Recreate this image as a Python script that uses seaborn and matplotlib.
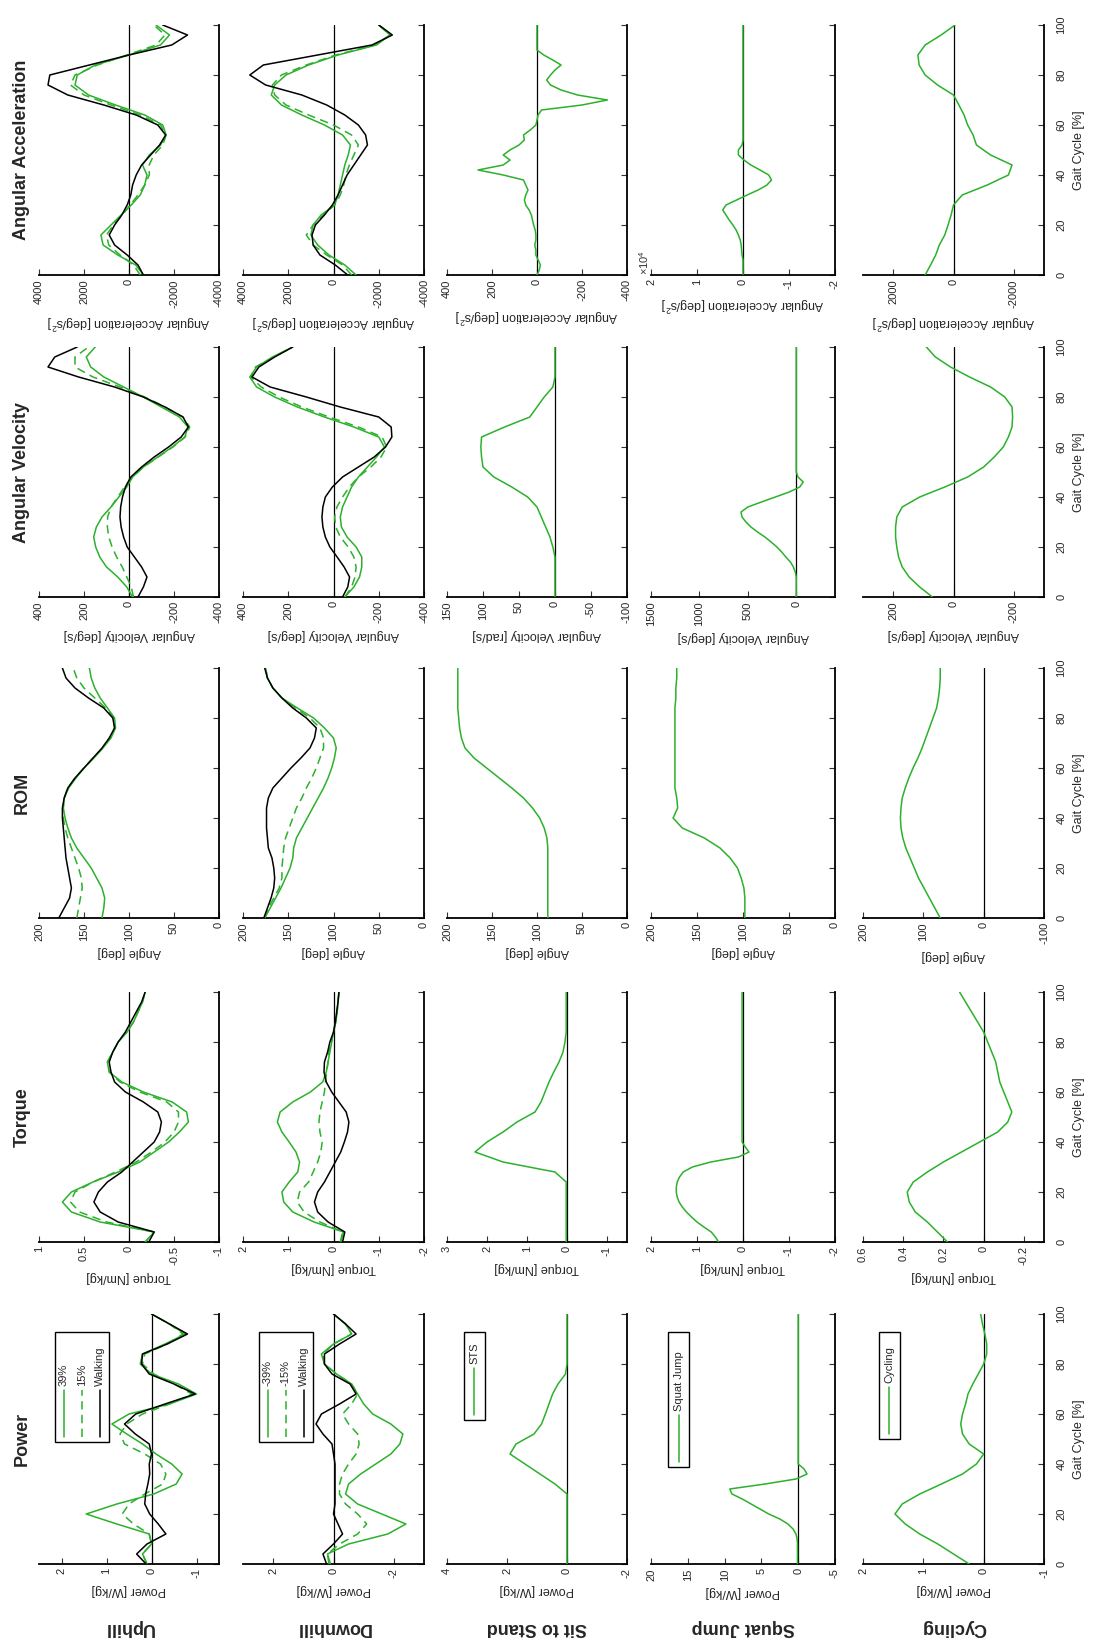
import matplotlib
matplotlib.use("Agg")
import matplotlib.pyplot as plt
import seaborn as sns
from matplotlib.patches import Rectangle
from matplotlib.lines import Line2D

sns.set_theme(style="white")
plt.rcParams["font.family"] = ["Liberation Sans", "DejaVu Sans"]
plt.rcParams["axes.unicode_minus"] = False
plt.rcParams["mathtext.fontset"] = "custom"
plt.rcParams["mathtext.rm"] = "Liberation Sans"

# ---------------- data ----------------
GAIT = [0, 4, 8, 12, 16, 20, 24, 28, 32, 36, 40, 44, 48, 52, 56, 60, 64, 68, 72, 76, 80, 84, 88, 92, 96, 100]
GAIT2 = [0, 2, 4, 6, 8, 10, 12, 14, 16, 18, 20, 22, 24, 26, 28, 30, 32, 34, 36, 38, 40, 42, 44, 46, 48, 50,
         52, 54, 56, 58, 60, 62, 64, 66, 68, 70, 72, 74, 76, 78, 80, 82, 84, 86, 88, 90, 92, 94, 96, 98, 100]

ACTIVITIES = ["Uphill", "Downhill", "Sit to Stand", "Squat Jump", "Cycling"]
MEASURES = ["Power", "Torque", "ROM", "Angular Velocity", "Angular Acceleration"]

# Power [W/kg]
pw_up_39 = [0.10, 0.20, 0.00, 0.05, 0.77, 1.45, 0.77, -0.05, -0.55, -0.68, -0.45, -0.10, 0.20, 0.55, 0.88, 0.50, -0.40, -1.00, -0.60, 0.00, 0.25, 0.20, -0.30, -0.75, -0.40, 0.00]
pw_up_15 = [0.10, 0.20, 0.00, 0.05, 0.40, 0.65, 0.50, 0.15, -0.25, -0.32, -0.20, 0.15, 0.60, 0.70, 0.55, 0.20, -0.40, -0.90, -0.50, -0.05, 0.20, 0.15, -0.35, -0.70, -0.40, 0.00]
pw_up_walk = [0.12, 0.33, 0.10, -0.32, -0.15, 0.04, 0.15, 0.13, 0.08, 0.04, 0.05, 0.00, 0.05, 0.36, 0.60, 0.35, -0.30, -0.97, -0.50, 0.05, 0.22, 0.20, -0.35, -0.80, -0.40, 0.00]
pw_dn_39 = [0.10, 0.20, -0.50, -1.80, -2.40, -1.60, -0.80, -0.40, -0.50, -0.90, -1.40, -1.90, -2.20, -2.30, -1.90, -1.30, -1.00, -0.80, -0.60, -0.10, 0.30, 0.40, 0.00, -0.60, -0.40, 0.00]
pw_dn_15 = [0.15, 0.20, -0.20, -0.80, -1.10, -0.80, -0.40, -0.20, -0.20, -0.30, -0.50, -0.75, -0.85, -0.80, -0.50, -0.30, -0.60, -0.80, -0.60, -0.10, 0.30, 0.35, 0.00, -0.60, -0.40, 0.00]
pw_dn_walk = [0.23, 0.35, 0.00, -0.30, -0.15, 0.00, -0.05, -0.05, -0.05, -0.05, -0.05, 0.00, 0.05, 0.35, 0.58, 0.40, -0.20, -0.75, -0.55, 0.05, 0.30, 0.30, -0.20, -0.75, -0.40, 0.00]
pw_sts = [0.0, 0.0, 0.0, 0.0, 0.0, 0.0, 0.0, 0.0, 0.4, 0.9, 1.4, 1.9, 1.7, 1.1, 0.85, 0.72, 0.6, 0.48, 0.3, 0.05, 0.0, 0.0, 0.0, 0.0, 0.0, 0.0]
pw_sj = [0.1, 0.1, 0.1, 0.1, 0.1, 0.15, 0.3, 0.7, 1.4, 2.5, 4.0, 5.2, 6.4, 7.6, 9.0, 9.3, 4.5, 0.3, -1.2, -0.8, 0.0,
         0.0, 0.0, 0.0, 0.0, 0.0, 0.0, 0.0, 0.0, 0.0, 0.0, 0.0, 0.0, 0.0, 0.0, 0.0, 0.0, 0.0, 0.0, 0.0, 0.0,
         0.0, 0.0, 0.0, 0.0, 0.0, 0.0, 0.0, 0.0, 0.0, 0.0]
pw_cyc = [0.24, 0.50, 0.76, 1.06, 1.30, 1.47, 1.35, 1.06, 0.70, 0.35, 0.12, 0.00, 0.24, 0.35, 0.38, 0.35, 0.30, 0.26, 0.18, 0.09, 0.00, -0.05, -0.05, -0.02, 0.02, 0.05]

# Torque [Nm/kg]
tq_up_39 = [-0.18, -0.28, 0.32, 0.64, 0.74, 0.64, 0.40, 0.12, -0.12, -0.28, -0.44, -0.56, -0.66, -0.64, -0.48, -0.16, 0.08, 0.22, 0.24, 0.18, 0.12, 0.02, -0.05, -0.10, -0.15, -0.18]
tq_up_15 = [-0.18, -0.28, 0.25, 0.55, 0.65, 0.60, 0.40, 0.15, -0.08, -0.25, -0.40, -0.50, -0.55, -0.55, -0.42, -0.12, 0.10, 0.22, 0.24, 0.18, 0.12, 0.03, -0.05, -0.10, -0.15, -0.18]
tq_up_walk = [-0.22, -0.28, 0.12, 0.32, 0.39, 0.34, 0.24, 0.08, -0.04, -0.16, -0.28, -0.34, -0.36, -0.32, -0.16, 0.04, 0.16, 0.20, 0.22, 0.18, 0.12, 0.04, -0.02, -0.08, -0.14, -0.18]
tq_dn_39 = [-0.16, -0.22, 0.43, 0.90, 1.10, 1.14, 0.98, 0.79, 0.75, 0.83, 0.98, 1.14, 1.24, 1.18, 0.90, 0.51, 0.24, 0.16, 0.12, 0.08, 0.04, 0.00, -0.05, -0.08, -0.10, -0.12]
tq_dn_15 = [-0.15, -0.20, 0.30, 0.65, 0.80, 0.75, 0.55, 0.45, 0.35, 0.28, 0.25, 0.30, 0.32, 0.30, 0.25, 0.20, 0.18, 0.15, 0.12, 0.10, 0.05, 0.00, -0.05, -0.08, -0.10, -0.12]
tq_dn_walk = [-0.20, -0.25, 0.12, 0.35, 0.42, 0.35, 0.20, 0.08, -0.04, -0.16, -0.24, -0.31, -0.34, -0.28, -0.12, 0.04, 0.16, 0.21, 0.20, 0.13, 0.08, 0.00, -0.04, -0.07, -0.10, -0.12]
tq_sts = [0.02, 0.02, 0.02, 0.02, 0.02, 0.02, 0.02, 0.30, 1.60, 2.30, 2.00, 1.60, 1.25, 0.80, 0.65, 0.55, 0.45, 0.33, 0.20, 0.10, 0.05, 0.02, 0.02, 0.02, 0.02, 0.02]
tq_sj = [0.53, 0.60, 0.69, 0.85, 1.00, 1.12, 1.23, 1.32, 1.39, 1.43, 1.45, 1.45, 1.43, 1.38, 1.30, 1.10, 0.70, 0.10, -0.13, -0.05, 0.02,
         0.02, 0.02, 0.02, 0.02, 0.02, 0.02, 0.02, 0.02, 0.02, 0.02, 0.02, 0.02, 0.02, 0.02, 0.02, 0.02, 0.02, 0.02, 0.02, 0.02,
         0.02, 0.02, 0.02, 0.02, 0.02, 0.02, 0.02, 0.02, 0.02, 0.02]
tq_cyc = [0.18, 0.23, 0.28, 0.34, 0.37, 0.38, 0.35, 0.28, 0.20, 0.11, 0.02, -0.07, -0.12, -0.14, -0.12, -0.10, -0.08, -0.07, -0.06, -0.04, -0.02, 0.00, 0.03, 0.06, 0.09, 0.12]

# ROM [deg]
rom_up_39 = [130, 128, 127, 130, 136, 142, 150, 158, 164, 168, 171, 173, 172, 167, 159, 150, 139, 129, 120, 115, 116, 124, 132, 138, 142, 144]
rom_up_15 = [158, 156, 154, 152, 153, 156, 160, 164, 168, 171, 173, 173, 172, 168, 160, 150, 140, 129, 121, 116, 117, 126, 138, 150, 158, 162]
rom_up_walk = [178, 172, 166, 164, 166, 168, 170, 171, 172, 173, 174, 174, 172, 168, 160, 150, 140, 130, 122, 116, 118, 128, 145, 160, 170, 174]
rom_dn_39 = [176, 170, 164, 158, 153, 148, 145, 144, 141, 135, 129, 123, 117, 111, 106, 102, 99, 97, 100, 110, 122, 140, 157, 167, 173, 175]
rom_dn_15 = [176, 172, 166, 160, 157, 157, 156, 155, 153, 149, 145, 141, 135, 130, 124, 119, 115, 111, 111, 115, 126, 142, 157, 167, 173, 175]
rom_dn_walk = [177, 173, 169, 166, 165, 166, 168, 172, 173, 174, 174, 174, 172, 167, 157, 147, 136, 126, 121, 119, 130, 145, 157, 167, 173, 176]
rom_sts = [88, 88, 88, 88, 88, 88, 88, 88, 89, 92, 97, 105, 115, 128, 142, 156, 170, 180, 184, 186, 187, 188, 188, 188, 188, 188]
rom_sj = [98, 98, 98, 99, 102, 106, 114, 125, 142, 166, 176, 171, 172, 174, 174, 174, 174, 174, 174, 174, 174, 174, 173, 173, 172, 172]
rom_cyc = [72, 81, 90, 99, 108, 115, 122, 129, 134, 137, 138, 137, 135, 130, 124, 117, 109, 102, 96, 90, 84, 78, 75, 73, 72, 72]

# Angular velocity [deg/s] (STS in rad/s)
av_up_39 = [-16, 10, 50, 100, 130, 148, 157, 145, 120, 80, 45, 10, -16, -64, -128, -192, -248, -262, -224, -144, -64, 24, 112, 170, 190, 150]
av_up_15 = [-20, -10, 10, 30, 55, 75, 90, 96, 95, 80, 50, 20, -16, -64, -130, -195, -250, -270, -240, -160, -70, 40, 160, 240, 240, 180]
av_up_walk = [-40, -64, -80, -56, -24, 8, 24, 35, 40, 37, 29, 16, -8, -56, -112, -176, -232, -264, -240, -160, -64, 64, 224, 360, 330, 230]
av_dn_39 = [-50, -90, -115, -125, -125, -100, -60, -35, -30, -40, -60, -80, -110, -150, -190, -225, -200, -90, 40, 160, 260, 340, 370, 340, 270, 180]
av_dn_15 = [-50, -80, -95, -100, -90, -65, -30, -10, -5, -15, -40, -70, -110, -165, -210, -235, -215, -110, 20, 140, 240, 320, 365, 345, 265, 180]
av_dn_walk = [-40, -63, -71, -47, -16, 16, 36, 47, 51, 47, 36, 5, -40, -110, -180, -230, -258, -255, -200, -30, 120, 280, 360, 330, 260, 180]
av_sts = [0, 0, 0, 0, 0, 3, 7, 13, 19, 25, 38, 60, 85, 100, 102, 103, 102, 70, 35, 25, 15, 3, 0, 0, 0, 0]
av_sj = [0, 0, 0, 0, 0, 10, 30, 60, 108, 150, 200, 260, 324, 400, 468, 520, 560, 570, 500, 360, 216, 72, -36, -72, -18, 0,
         0, 0, 0, 0, 0, 0, 0, 0, 0, 0, 0, 0, 0, 0, 0, 0, 0, 0, 0, 0, 0, 0, 0, 0, 0]
av_cyc = [70, 112, 147, 170, 182, 188, 192, 192, 188, 170, 112, 29, -47, -100, -135, -165, -182, -194, -196, -194, -170, -123, -53, 10, 60, 90]

# Angular acceleration [deg/s^2]
aa_up_39 = [-640, -300, 500, 1150, 1250, 800, 350, -100, -500, -700, -800, -600, -900, -1400, -1650, -1500, -700, 600, 1800, 2400, 2300, 1500, 0, -1400, -1800, -1200]
aa_up_15 = [-500, -200, 400, 900, 1000, 700, 300, -50, -400, -700, -900, -900, -1100, -1500, -1650, -1400, -500, 800, 2000, 2600, 2400, 1400, 100, -1200, -1600, -1100]
aa_up_walk = [-640, -400, 80, 640, 880, 640, 320, 80, -80, -160, -320, -560, -960, -1360, -1630, -1280, -320, 1120, 2720, 3600, 3520, 1760, 0, -1900, -2600, -1500]
aa_dn_39 = [-1000, -500, 200, 700, 1000, 900, 550, -50, -200, -300, -400, -500, -650, -750, -400, 400, 1400, 2300, 2750, 2600, 2100, 1100, -200, -1900, -2500, -2000]
aa_dn_15 = [-800, -400, 300, 900, 1200, 900, 450, -50, -300, -450, -550, -700, -900, -1100, -800, 0, 1100, 2100, 2600, 2700, 2300, 1200, -100, -1800, -2500, -2000]
aa_dn_walk = [-630, -80, 600, 900, 950, 800, 400, 50, -200, -400, -600, -900, -1200, -1500, -1420, -1100, -500, 300, 1400, 3000, 3700, 3100, 700, -1700, -2600, -2000]
aa_sts = [0, -10, -15, -5, 5, 5, 10, 5, 5, 8, 15, 20, 25, 35, 50, 56, 50, 40, 50, 60, 150, 262, 150, 120, 150, 120,
          80, 56, 60, 30, 5, 0, -5, -20, -200, -313, -180, -107, -60, -43, -60, -80, -107, -70, -30, 0, 0, 0, 0, 0, 0]
aa_sj = [0, 0, 0, 0, 200, 300, 400, 600, 1000, 1500, 2200, 3000, 3700, 4400, 3700, 1400, -900, -3300, -5200, -6200,
         -5600, -3700, -1700, -200, 1000, 1000, 200, 0, 0, 0, 0, 0, 0, 0, 0, 0, 0, 0, 0, 0, 0, 0, 0, 0, 0, 0, 0, 0, 0, 0, 0]
aa_cyc = [940, 760, 590, 470, 290, 180, 80, 0, -290, -1120, -1820, -1940, -1230, -760, -650, -470, -350, -180, 0, 530, 940, 1140, 1180, 940, 410, -50]

LEG_UP = ["39%", "15%", "Walking"]
LEG_DN = ["-39%", "-15%", "Walking"]
LEG_SINGLE = {"Sit to Stand": "STS", "Squat Jump": "Squat Jump", "Cycling": "Cycling"}

SERIES = {
    "Power": [[pw_up_39, pw_up_15, pw_up_walk], [pw_dn_39, pw_dn_15, pw_dn_walk], [pw_sts], [pw_sj], [pw_cyc]],
    "Torque": [[tq_up_39, tq_up_15, tq_up_walk], [tq_dn_39, tq_dn_15, tq_dn_walk], [tq_sts], [tq_sj], [tq_cyc]],
    "ROM": [[rom_up_39, rom_up_15, rom_up_walk], [rom_dn_39, rom_dn_15, rom_dn_walk], [rom_sts], [rom_sj], [rom_cyc]],
    "Angular Velocity": [[av_up_39, av_up_15, av_up_walk], [av_dn_39, av_dn_15, av_dn_walk], [av_sts], [av_sj], [av_cyc]],
    "Angular Acceleration": [[aa_up_39, aa_up_15, aa_up_walk], [aa_dn_39, aa_dn_15, aa_dn_walk], [aa_sts], [aa_sj], [aa_cyc]],
}

XLIM = {
    "Power": [(2.5, -1.5), (3, -3), (4, -2), (20, -5), (2, -1)],
    "Torque": [(1, -1), (2, -2), (3, -1.5), (2, -2), (0.6, -0.3)],
    "ROM": [(200, 0), (200, 0), (200, 0), (200, 0), (200, -100)],
    "Angular Velocity": [(400, -400), (400, -400), (150, -100), (1500, -400), (300, -300)],
    "Angular Acceleration": [(4000, -4000), (4000, -4000), (400, -400), (2, -2), (3000, -3000)],
}
XTICKS = {
    "Power": [[2, 1, 0, -1], [2, 0, -2], [4, 2, 0, -2], [20, 15, 10, 5, 0, -5], [2, 1, 0, -1]],
    "Torque": [[1, 0.5, 0, -0.5, -1], [2, 1, 0, -1, -2], [3, 2, 1, 0, -1], [2, 1, 0, -1, -2], [0.6, 0.4, 0.2, 0, -0.2]],
    "ROM": [[200, 150, 100, 50, 0]] * 4 + [[200, 100, 0, -100]],
    "Angular Velocity": [[400, 200, 0, -200, -400], [400, 200, 0, -200, -400], [150, 100, 50, 0, -50, -100],
                         [1500, 1000, 500, 0], [200, 0, -200]],
    "Angular Acceleration": [[4000, 2000, 0, -2000, -4000], [4000, 2000, 0, -2000, -4000], [400, 200, 0, -200, -400],
                             [2, 1, 0, -1, -2], [2000, 0, -2000]],
}
XLABEL = {
    "Power": ["Power [W/kg]"] * 5,
    "Torque": ["Torque [Nm/kg]"] * 5,
    "ROM": ["Angle [deg]"] * 5,
    "Angular Velocity": ["Angular Velocity [deg/s]", "Angular Velocity [deg/s]", "Angular Velocity [rad/s]",
                         "Angular Velocity [deg/s]", "Angular Velocity [deg/s]"],
    "Angular Acceleration": ["Angular Acceleration [deg/s$^2$]"] * 5,
}
GAIT_TICKS = [0, 20, 40, 60, 80, 100]

# ---------------- layout (pixels) ----------------
W, H = 1097, 1642
COL_LEFT = [39, 243, 447, 651, 863]
COL_W = [180, 181, 180, 184, 181]
ROW_BOTTOM = [78, 400, 724, 1045, 1367]   # Power, Torque, ROM, AngVel, AngAcc (from figure bottom)
ROW_H = 250

GREEN = "#2bb12b"
DASH = (0, (5.5, 3.5))
STYLE3 = [dict(color=GREEN, linestyle="-"), dict(color=GREEN, linestyle=DASH), dict(color="black", linestyle="-")]

fig = plt.figure(figsize=(W / 100, H / 100), dpi=100)
fig.patch.set_facecolor("white")


def draw_legend(ax, labels, styles, x0, x1, bottom, top=0.928):
    ax.add_patch(Rectangle((x0, bottom), x1 - x0, top - bottom, transform=ax.transAxes,
                           facecolor="white", edgecolor="black", lw=1.0, zorder=6, clip_on=False))
    n = len(labels)
    for i, (lab, st) in enumerate(zip(labels, styles)):
        xc = x0 + (i + 0.5) * (x1 - x0) / n
        ax.add_line(Line2D([xc, xc], [bottom + 0.02, bottom + 0.21], transform=ax.transAxes,
                           lw=1.1, zorder=7, clip_on=False, **st))
        ax.text(xc, bottom + 0.225, lab, transform=ax.transAxes, rotation=90, ha="center", va="bottom",
                fontsize=8, zorder=7)


for r, meas in enumerate(MEASURES):
    for c, act in enumerate(ACTIVITIES):
        ax = fig.add_axes([COL_LEFT[c] / W, ROW_BOTTOM[r] / H, COL_W[c] / W, ROW_H / H])
        ax.set_facecolor("white")
        ax.axvline(0, color="black", lw=0.9, zorder=1)
        series = SERIES[meas][c]
        styles = STYLE3 if len(series) == 3 else [dict(color=GREEN, linestyle="-")]
        for vals, st in zip(series, styles):
            gait = GAIT if len(vals) == len(GAIT) else GAIT2
            xs = [v / 1e4 for v in vals] if (meas == "Angular Acceleration" and act == "Squat Jump") else vals
            sns.lineplot(x=xs, y=gait, orient="y", sort=False, estimator=None, ax=ax,
                         lw=1.1, legend=False, zorder=3, **st)
        ax.set_xlim(*XLIM[meas][c])
        ax.set_ylim(0, 100)
        ticks = XTICKS[meas][c]
        ax.set_xticks(ticks)
        ax.set_xticklabels([f"{t:g}" for t in ticks])
        ax.set_yticks(GAIT_TICKS)
        ax.yaxis.tick_right()
        for s in ["top", "left"]:
            ax.spines[s].set_visible(False)
        for s in ["bottom", "right"]:
            ax.spines[s].set_visible(True)
            ax.spines[s].set_color("black")
            ax.spines[s].set_linewidth(1.3)
        ax.tick_params(axis="both", direction="in", length=4, width=0.8, color="#333333")
        ax.tick_params(axis="x", labelrotation=90, labelsize=8, pad=3, bottom=True, top=False)
        ax.set_xlabel(XLABEL[meas][c], rotation=180, fontsize=9, labelpad=4)
        if c == 4:
            ax.tick_params(axis="y", right=True, left=False, labelright=True, labelleft=False,
                           labelrotation=90, labelsize=8, pad=9)
            for lab in ax.get_yticklabels():
                lab.set_va("center")
            ax.yaxis.set_label_position("right")
            ax.set_ylabel("Gait Cycle [%]", rotation=90, fontsize=9, labelpad=5)
        else:
            ax.tick_params(axis="y", right=True, left=False, labelright=False, labelleft=False)
            ax.set_ylabel("")
        ax.grid(False)

        if meas == "Angular Acceleration" and act == "Squat Jump":
            ax.text(-0.04, 0.0, r"$\times10^{4}$", transform=ax.transAxes, rotation=90,
                    ha="center", va="bottom", fontsize=8, color="#333333")

        if meas == "Power":
            if c == 0:
                draw_legend(ax, LEG_UP, STYLE3, 0.089, 0.39, 0.488)
            elif c == 1:
                draw_legend(ax, LEG_DN, STYLE3, 0.088, 0.387, 0.488)
            elif c == 2:
                draw_legend(ax, [LEG_SINGLE[act]], [dict(color=GREEN, linestyle="-")], 0.094, 0.211, 0.576)
            elif c == 3:
                draw_legend(ax, [LEG_SINGLE[act]], [dict(color=GREEN, linestyle="-")], 0.092, 0.207, 0.388)
            else:
                draw_legend(ax, [LEG_SINGLE[act]], [dict(color=GREEN, linestyle="-")], 0.088, 0.204, 0.50)
            # row (activity) label, upside down under the power panels
            fig.text((COL_LEFT[c] + COL_W[c] / 2) / W, 15 / H, act, rotation=180, ha="center", va="center",
                     fontsize=13, fontweight="bold")

    # column (measure) title
    fig.text(22 / W, (ROW_BOTTOM[r] + ROW_H / 2) / H, meas, rotation=90, ha="center", va="center",
             fontsize=13, fontweight="bold")

fig.savefig("out.png", dpi=100, facecolor="white")
